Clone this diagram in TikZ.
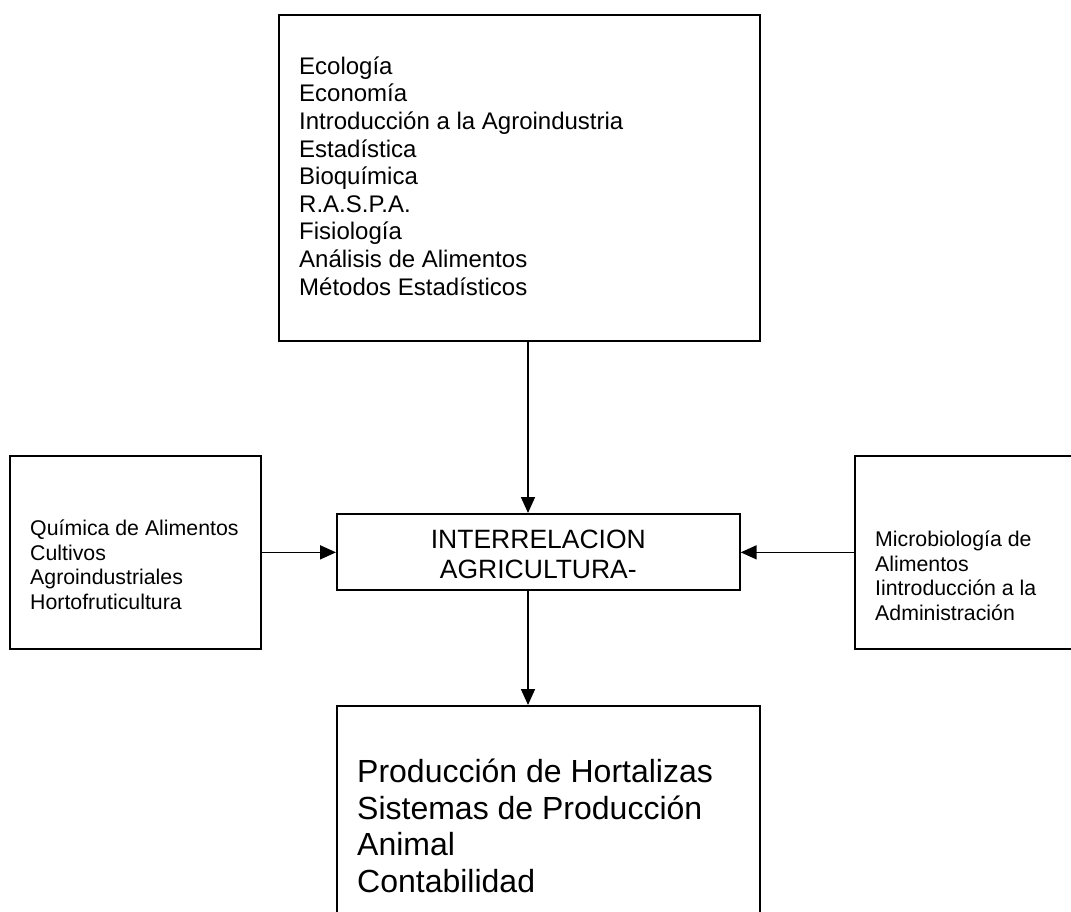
\documentclass[tikz,border=0pt]{standalone}
\usepackage{fontspec}
\setmainfont{Liberation Sans}
\usetikzlibrary{arrows.meta}
\tikzset{
  caja/.style={draw, line width=1.7pt, inner sep=0pt, anchor=north west},
  texto/.style={anchor=north west, inner sep=0pt, align=left},
  flecha/.style={line width=1.7pt, -{Triangle[length=16pt,width=14pt]}}
}
\begin{document}
\begin{tikzpicture}[x=1pt,y=-1pt]
    \useasboundingbox (0,0) rectangle (1071,911);
    \clip (0,0) rectangle (1071,911);

    % cajas
    \node[caja, minimum width=481pt, minimum height=326pt] (base) at (278,14) {};
    \node[caja, minimum width=251pt, minimum height=193pt] (izq) at (9,455) {};
    \node[caja, minimum width=230pt, minimum height=193pt] (der) at (854,455) {};
    \node[caja, minimum width=403pt, minimum height=76pt] (inter) at (336,513) {};
    \node[caja, minimum width=423pt, minimum height=230pt] (prod) at (336,705) {};

    % textos
    \node[texto, font=\fontsize{24}{27.6}\selectfont] (baseTxt) at (299,56.5)
      {Ecología\\Economía\\Introducción a la Agroindustria\\Estadística\\Bioquímica\\R.A.S.P.A.\\Fisiología\\Análisis de Alimentos\\Métodos Estadísticos};
    \node[texto, font=\fontsize{21.3}{24.8}\selectfont] (izqTxt) at (30,519.5)
      {Química de Alimentos\\Cultivos\\Agroindustriales\\Hortofruticultura};
    \node[texto, font=\fontsize{21.3}{24.8}\selectfont] (derTxt) at (875,530.5)
      {Microbiología de\\Alimentos\\Iintroducción a la\\Administración};
    \node[inner sep=0pt, align=center, font=\fontsize{26.5}{30}\selectfont,
      yshift=-3pt] (interTxt) at (inter.center) {INTERRELACION\\AGRICULTURA-};
    \node[texto, font=\fontsize{32}{36.7}\selectfont] (prodTxt) at (357,758.6)
      {Producción de Hortalizas\\Sistemas de Producción\\Animal\\Contabilidad};

    % flechas
    \coordinate (eje) at (528,0);
    \draw[flecha] (base.south -| eje) -- (inter.north -| eje);
    \draw[flecha] (izq.east) -- (izq.east -| inter.west);
    \draw[flecha] (der.west) -- (der.west -| inter.east);
    \draw[flecha] (inter.south -| eje) -- (prod.north -| eje);
\end{tikzpicture}
\end{document}
